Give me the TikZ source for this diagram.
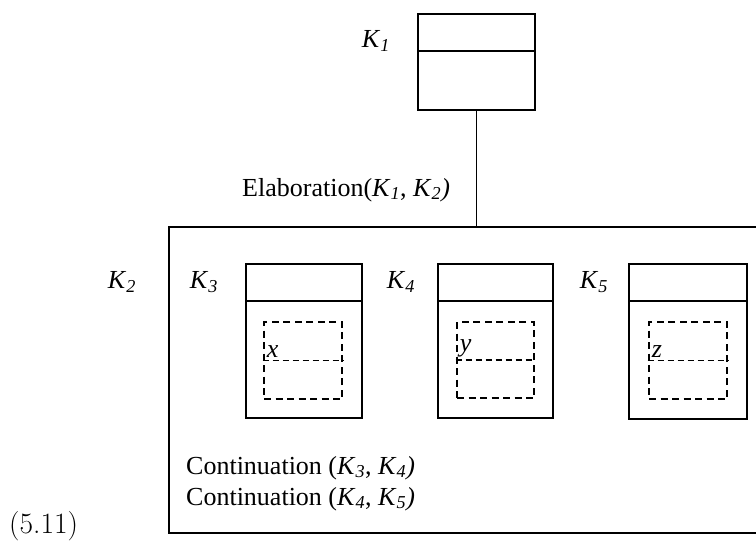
\documentclass[tikz,border=0pt]{standalone}
\usepackage{fontspec}
\newfontfamily\tm{Liberation Serif}
\usetikzlibrary{calc}
\newcommand\Kx[1]{\textit{K}\textsubscript{\textit{#1}}}
\begin{document}
\begin{tikzpicture}[x=1pt,y=-1pt,
  box/.style={draw,line width=1.9pt,inner sep=0pt},
  dbox/.style={draw,line width=2.9pt,dash pattern=on 7pt off 4.5pt,inner sep=0pt},
  divline/.style={line width=1.9pt},
  ddiv/.style={line width=1.5pt,dash pattern=on 6pt off 4pt},
  lbl/.style={font=\tm\fontsize{26}{31}\selectfont,inner sep=0pt},
  txt/.style={font=\tm\fontsize{26}{31}\selectfont,inner sep=0pt,anchor=west,align=left}]
\clip (0,0) rectangle (756,542);
% K1
\node[box,minimum width=117pt,minimum height=96pt] (k1) at (476.5,62) {};
\draw[divline] ($(k1.north west)+(0,38)$) coordinate (k1a) -- (k1a -| k1.east);
\node[lbl] (l1) at (376,41) {\Kx{1}};
% big box K2
\node[box,minimum width=601pt,minimum height=306pt] (k2) at (469.5,380) {};
\draw[line width=1.9pt] (k1.south) -- (k1.south |- k2.north);
\node[txt] (el) at (242,190) {Elaboration(\Kx{1}, \Kx{2}\textit{)}};
\node[lbl] (l2) at (122,282) {\Kx{2}};
% K3
\node[box,minimum width=116pt,minimum height=154pt] (k3) at (304,341) {};
\draw[divline] ($(k3.north west)+(0,38)$) coordinate (k3a) -- (k3a -| k3.east);
\node[dbox,minimum width=78pt,minimum height=77pt] (d3) at (303,360.5) {};
\draw[ddiv] (d3.west) -- (d3.east);
\node[lbl,anchor=south west] (x) at ($(d3.west)+(4,-3)$) {\textit{x}};
\node[lbl] (l3) at (204,282) {\Kx{3}};
% K4
\node[box,minimum width=115pt,minimum height=154pt] (k4) at (495.5,341) {};
\draw[divline] ($(k4.north west)+(0,38)$) coordinate (k4a) -- (k4a -| k4.east);
\node[dbox,minimum width=77pt,minimum height=76pt] (d4) at (495.5,360) {};
\draw[ddiv] (d4.west) -- (d4.east);
\node[lbl,anchor=south west] (y) at ($(d4.west)+(4,-3)$) {\textit{y}};
\node[lbl] (l4) at (401,282) {\Kx{4}};
% K5
\node[box,minimum width=118pt,minimum height=155pt] (k5) at (688,341.5) {};
\draw[divline] ($(k5.north west)+(0,38)$) coordinate (k5a) -- (k5a -| k5.east);
\node[dbox,minimum width=78pt,minimum height=77pt] (d5) at (688,360.5) {};
\draw[ddiv] (d5.west) -- (d5.east);
\node[lbl,anchor=south west] (z) at ($(d5.west)+(4,-3)$) {\textit{z}};
\node[lbl] (l5) at (594,282) {\Kx{5}};
% relations
\node[txt] (c1) at (186,468) {Continuation (\Kx{3}, \Kx{4}\textit{)}};
\node[txt] (c2) at (186,499) {Continuation (\Kx{4}, \Kx{5}\textit{)}};
\node[anchor=west,inner sep=0pt,font=\fontsize{29.5}{34}\selectfont] (num) at (9,526) {(5.11)};
\end{tikzpicture}
\end{document}
